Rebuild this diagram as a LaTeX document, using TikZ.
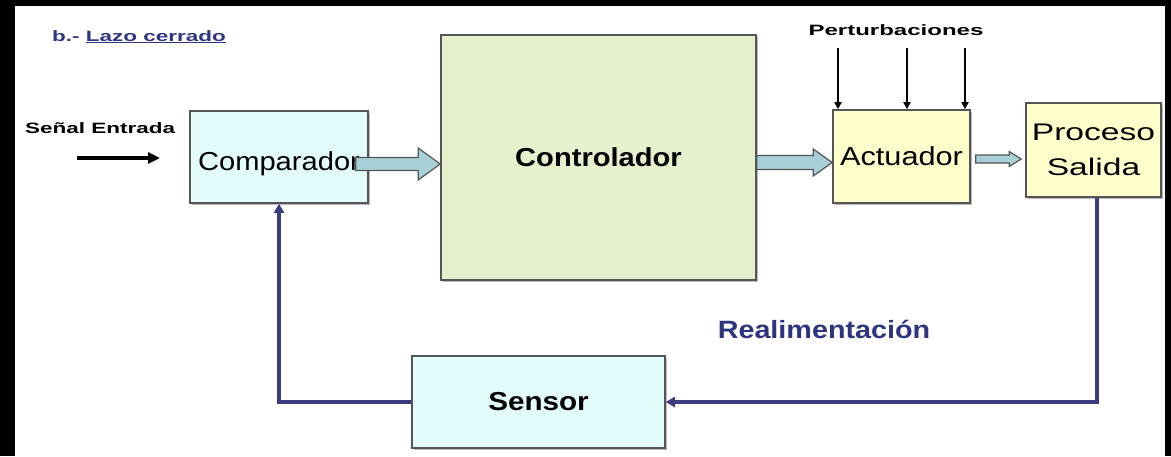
\documentclass[tikz,border=0pt]{standalone}
\usepackage{fontspec}
\setmainfont{Liberation Sans}
\usetikzlibrary{calc,arrows.meta,shadows}
\definecolor{cyanbox}{HTML}{E2FCFC}
\definecolor{greenbox}{HTML}{E5F1CD}
\definecolor{yellowbox}{HTML}{FFFFCC}
\definecolor{edgegray}{HTML}{555555}
\definecolor{arrowfill}{HTML}{A8D0D8}
\definecolor{fbline}{HTML}{3D3B80}
\definecolor{titleblue}{HTML}{2E3580}
\newcommand{\fatarrow}[5]{%
  \draw[fat] ($(#1)+(0,-#3)$) -- ($(#2)+(-#5,-#3)$) -- ($(#2)+(-#5,-#4)$) -- (#2)
    -- ($(#2)+(-#5,#4)$) -- ($(#2)+(-#5,#3)$) -- ($(#1)+(0,#3)$) -- cycle;}
\tikzset{
  blockbox/.style={draw=edgegray, line width=1.6pt, inner sep=0pt,
    drop shadow={shadow xshift=1.5pt,shadow yshift=-1.5pt,fill=black!45,opacity=.6}},
  fat/.style={draw=edgegray, line width=1.2pt, fill=arrowfill, line join=miter},
  fbarrow/.style={draw=fbline, line width=3.5pt, -{Triangle[length=9pt,width=10pt]}},
  distarrow/.style={draw=black, line width=2.2pt, -{Triangle[length=7pt,width=7pt]}},
  smalllbl/.style={inner sep=0pt, font=\bfseries\fontsize{15}{17}\selectfont},
  bigtext/.style={font=\fontsize{26}{28}\selectfont},
  bigbold/.style={font=\bfseries\fontsize{26}{28}\selectfont}
}
\begin{document}
\begin{tikzpicture}[x=1pt,y=-1pt]
\fill[black] (0,0) rectangle (1171,456);
\fill[white] (15,6) rectangle (1165,456);
\useasboundingbox (0,0) rectangle (1171,456);

\node[smalllbl, anchor=base west, text=titleblue] (title) at (52,41)
  {\scalebox{1.5}[1]{b.- \underline{Lazo cerrado}}};

% blocks
\node[blockbox, bigtext, fill=cyanbox, minimum width=178pt, minimum height=92pt] (comp) at (279,157)
  {\raisebox{-7pt}[\height][\depth]{\scalebox{1.12}[1]{Comparador}}};
\node[blockbox, bigbold, fill=greenbox, minimum width=315pt, minimum height=245pt] (ctrl) at (598.5,157.5)
  {\scalebox{1.12}[1]{Controlador}};
\node[blockbox, bigtext, fill=yellowbox, minimum width=137pt, minimum height=93pt] (act) at (901.5,156.5)
  {\scalebox{1.18}[1]{Actuador}};
\node[blockbox, fill=yellowbox, minimum width=135pt, minimum height=94pt, align=center,
  font=\fontsize{24}{35}\selectfont] (proc) at (1093.5,150)
  {\scalebox{1.4}[1]{Proceso}\\\scalebox{1.4}[1]{Salida}};
\node[blockbox, bigbold, fill=cyanbox, minimum width=253pt, minimum height=92pt] (sensor) at (538.5,402)
  {\scalebox{1.14}[1]{Sensor}};

% labels
\node[smalllbl, anchor=base west] (inlbl) at (25,133) {\scalebox{1.5}[1]{Señal Entrada}};
\node[smalllbl, anchor=base] (pert) at (896,35) {\scalebox{1.6}[1]{Perturbaciones}};
\node[anchor=base, inner sep=0pt, text=titleblue, font=\bfseries\fontsize{25}{27}\selectfont] (fblbl) at (824,338)
  {\scalebox{1.15}[1]{Realimentación}};

% input arrow
\coordinate (ins) at (77,158);
\coordinate (ine) at (160,158);
\draw[line width=4pt, -{Triangle[length=12pt,width=11pt]}] (ins) -- (ine);

% disturbances
\coordinate (d1) at (838,48);
\coordinate (d2) at (907,48);
\coordinate (d3) at (965,48);
\draw[distarrow] (d1) -- (d1 |- act.north);
\draw[distarrow] (d2) -- (d2 |- act.north);
\draw[distarrow] (d3) -- (d3 |- act.north);

% fat arrows
\coordinate (a1s) at ($(comp.east)+(-13,7)$);
\coordinate (a1e) at ($(ctrl.west)+(0,6.5)$);
\fatarrow{a1s}{a1e}{6.5}{16}{22}
\coordinate (a2s) at ($(ctrl.east)+(0,5)$);
\coordinate (a2e) at ($(ctrl.east -| act.west)+(0,5)$);
\fatarrow{a2s}{a2e}{7}{13.5}{19}
\coordinate (a3s) at ($(act.east)+(5,2.5)$);
\coordinate (a3e) at ($(act.east -| proc.west)+(-4,2.5)$);
\fatarrow{a3s}{a3e}{4}{7.5}{12}

% feedback
\draw[fbarrow] ($(proc.south)+(3.5,0)$) |- (sensor.east);
\draw[fbarrow] (sensor.west) -| (comp.south);
\end{tikzpicture}
\end{document}
